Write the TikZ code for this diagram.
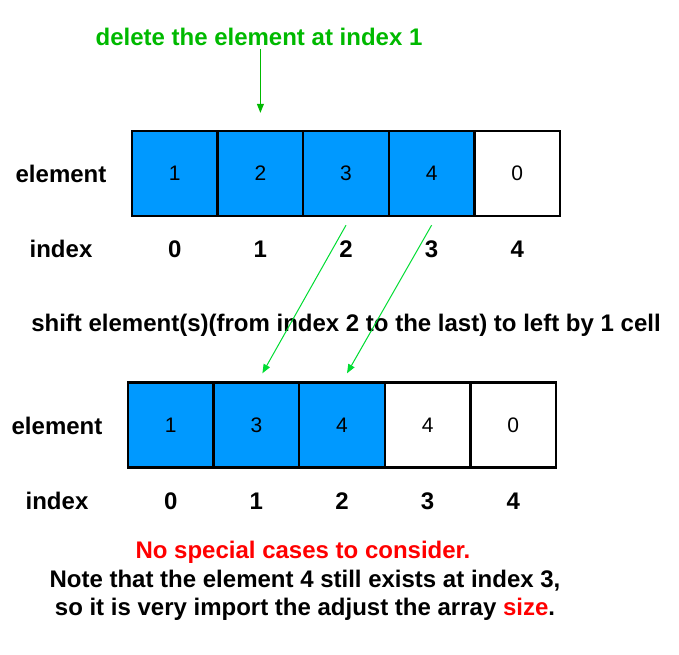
\documentclass[tikz,border=0pt]{standalone}
\usepackage{fontspec}
\setmainfont{Liberation Sans}
\usepackage{xcolor}
\usetikzlibrary{arrows.meta,positioning}

\definecolor{cellblue}{RGB}{0,153,255}
\definecolor{titlegreen}{RGB}{0,185,0}
\definecolor{arrowgreen}{RGB}{0,220,50}
\definecolor{notered}{RGB}{255,0,0}

\begin{document}
\begin{tikzpicture}[
    x=1pt, y=-1pt,
    cell/.style={draw, line width=2.4pt, minimum width=85.6pt, minimum height=85pt, font=\fontsize{21}{24}\selectfont, inner sep=0pt},
    full/.style={cell, fill=cellblue},
    lbl/.style={font=\bfseries\fontsize{24}{28}\selectfont},
    movearrow/.style={-{Triangle[width=7pt,length=9pt]}, arrowgreen, line width=1pt}
]
\useasboundingbox (0,0) rectangle (679,654);

% top array
\foreach \val [count=\i from 0] in {1,2,3,4,0} {
    \pgfmathsetmacro{\cx}{132+85.6*(\i+0.5)}
    \ifnum\i<4
        \node[full] (t\i) at (\cx,173.5) {\val};
    \else
        \node[cell] (t\i) at (\cx,173.5) {\val};
    \fi
    \node[lbl] (ti\i) at (\cx,249) {\i};
}
\node[lbl] (telem) at (61,174) {element};
\node[lbl] (tidx) at (61,249) {index};

% bottom array
\foreach \val [count=\i from 0] in {1,3,4,4,0} {
    \pgfmathsetmacro{\cx}{128+85.6*(\i+0.5)}
    \ifnum\i<3
        \node[full] (b\i) at (\cx,425) {\val};
    \else
        \node[cell] (b\i) at (\cx,425) {\val};
    \fi
    \node[lbl] (bi\i) at (\cx,501) {\i};
}
\node[lbl] (belem) at (57,426) {element};
\node[lbl] (bidx) at (57,501) {index};

% texts
\node[lbl, text=titlegreen] (title) at (259,37) {delete the element at index 1};
\node[lbl] (shifttext) at (346,325) {shift element(s)(from index 2 to the last) to left by 1 cell};
\node[lbl, text=notered] (note1) at (303,552) {No special cases to consider.};
\node[lbl, align=center] (note2) at (305,595) {Note that the element 4 still exists at index 3,\\so it is very import the adjust the array \textcolor{notered}{size}.};

% arrows
\draw[movearrow, titlegreen] (title.south -| t1.north) -- ([yshift=17pt]t1.north);
\draw[movearrow] ([yshift=-8pt]t2.south) -- ([xshift=6pt,yshift=8pt]b1.north);
\draw[movearrow] ([yshift=-8pt]t3.south) -- ([xshift=5pt,yshift=8pt]b2.north);

\end{tikzpicture}
\end{document}
